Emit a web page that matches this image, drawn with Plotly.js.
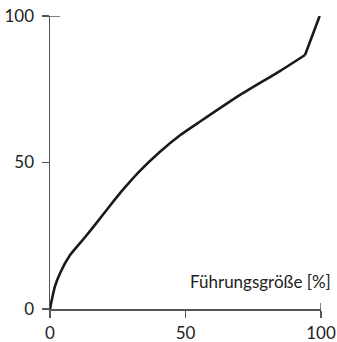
<!DOCTYPE html>
<html><head><meta charset="utf-8">
<script src="https://cdn.plot.ly/plotly-3.0.1.min.js"></script>
<style>html,body{margin:0;padding:0;background:#fff}</style>
</head><body>
<div id="chart" style="width:337px;height:342px"></div>
<script>
const xValues = [0, 0.4, 1.8, 3.7, 7.4, 12.9, 16.6, 20.9, 27, 33, 40.6, 48, 55.4, 70, 85, 94.1, 99.5];
const yValues = [0, 1.9, 7.6, 12.2, 18.4, 24.5, 28.7, 33.8, 40.8, 47, 53.7, 59.3, 64, 73, 81.3, 86.7, 100];
const kinkIndex = 15;
const tickVals = [0, 50, 100];
const tickText = ['0', '50', '100'];
const axisLabel = 'Führungsgröße [%]';

const font = {family: 'Lato, "Open Sans", sans-serif', size: 17, color: '#222'};
const axisCommon = {
  range: [0, 100], showgrid: false, zeroline: false, showline: true,
  linecolor: '#555', linewidth: 1.5, ticks: 'outside', ticklen: 7,
  tickwidth: 1.5, tickcolor: '#555', tickvals: tickVals, ticktext: tickText,
  tickfont: font, fixedrange: true
};
const lineStyle = {color: '#1a1a1a', width: 2.6};
Plotly.newPlot('chart', [{
  x: xValues.slice(0, kinkIndex + 1), y: yValues.slice(0, kinkIndex + 1),
  type: 'scatter', mode: 'lines',
  line: Object.assign({shape: 'spline', smoothing: 0.6}, lineStyle),
  cliponaxis: false, hoverinfo: 'skip'
}, {
  x: xValues.slice(kinkIndex), y: yValues.slice(kinkIndex),
  type: 'scatter', mode: 'lines', line: lineStyle,
  cliponaxis: false, hoverinfo: 'skip'
}], {
  width: 337, height: 342,
  margin: {l: 50, r: 16, t: 16, b: 33},
  paper_bgcolor: '#fff', plot_bgcolor: '#fff',
  showlegend: false,
  xaxis: Object.assign({}, axisCommon, {ticklabelstandoff: 1}),
  yaxis: Object.assign({}, axisCommon, {ticklabelstandoff: 4}),
  shapes: [
    {type: 'line', xref: 'x', yref: 'y', xsizemode: 'pixel', xanchor: 0,
     x0: 0, x1: 10, y0: 100, y1: 100, line: {color: '#555', width: 1.5}},
    {type: 'line', xref: 'x', yref: 'y', ysizemode: 'pixel', yanchor: 0,
     x0: 100, x1: 100, y0: 0, y1: 6, line: {color: '#555', width: 1.5}}
  ],
  annotations: [{
    text: axisLabel, xref: 'x', yref: 'y', x: 100, y: 9.5,
    xanchor: 'right', yanchor: 'middle', xshift: 12, showarrow: false,
    font: {family: font.family, size: 17, color: '#222'}
  }]
}, {staticPlot: true});
</script>
</body></html>
